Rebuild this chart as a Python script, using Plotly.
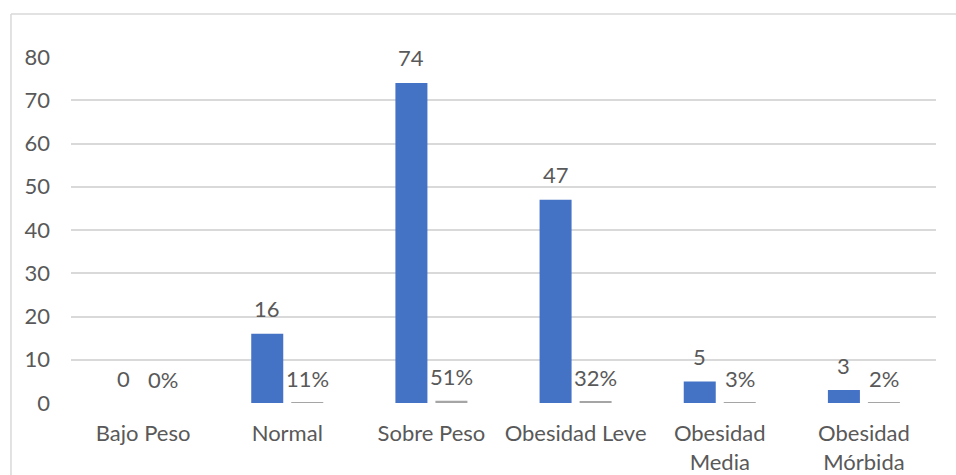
import plotly.graph_objects as go

# Weight-status categories (two-line labels where the axis wraps them)
categories = ["Bajo Peso", "Normal", "Sobre Peso", "Obesidad Leve",
              "Obesidad<br>Media", "Obesidad<br>Mórbida"]
counts = [0, 16, 74, 47, 5, 3]
shares = [0.00, 0.11, 0.51, 0.32, 0.03, 0.02]

y_ticks = [0, 10, 20, 30, 40, 50, 60, 70, 80]

FONT = "Lato"
FONT_SIZE = 22
TEXT_COLOR = "#595959"
GRID_COLOR = "#d9d9d9"

fig = go.Figure()
fig.add_trace(go.Bar(x=categories, y=counts, marker_color="#4472C4",
                     marker_line_width=0, name="Frecuencia"))
fig.add_trace(go.Bar(x=categories, y=shares, marker_color="#A5A5A5",
                     marker_line_width=0, name="Porcentaje"))

# Value labels above each bar
annotations = []
for cat, n, s in zip(categories, counts, shares):
    annotations.append(dict(x=cat, y=n, xref="x", yref="y", text=f"{n}",
                            showarrow=False, xshift=-20, yshift=25,
                            yanchor="middle",
                            font=dict(family=FONT, size=FONT_SIZE, color=TEXT_COLOR)))
    annotations.append(dict(x=cat, y=s, xref="x", yref="y",
                            text=f"{round(s * 100)}%",
                            showarrow=False, xshift=20, yshift=24,
                            yanchor="middle",
                            font=dict(family=FONT, size=FONT_SIZE, color=TEXT_COLOR)))

fig.update_layout(
    width=956, height=475,
    margin=dict(l=71, r=20, t=57, b=72),
    paper_bgcolor="white", plot_bgcolor="white",
    barmode="group", bargap=0.445, bargroupgap=0.2,
    showlegend=False,
    font=dict(family=FONT, size=FONT_SIZE, color=TEXT_COLOR),
    annotations=annotations,
    shapes=[
        # chart frame: top and left edges
        dict(type="line", xref="paper", yref="paper",
             x0=-0.0694, x1=1.1, y0=1.1243, y1=1.1243,
             line=dict(color=GRID_COLOR, width=1.5)),
        dict(type="line", xref="paper", yref="paper",
             x0=-0.0694, x1=-0.0694, y0=1.1243, y1=-0.4,
             line=dict(color=GRID_COLOR, width=1.5)),
    ],
)
fig.update_xaxes(showgrid=False, showline=False, ticks="", automargin=False,
                 tickfont=dict(family=FONT, size=FONT_SIZE, color=TEXT_COLOR),
                 ticklabelstandoff=15)
fig.update_yaxes(range=[0, 80], tickvals=y_ticks, showgrid=True,
                 gridcolor=GRID_COLOR, gridwidth=1.5, zeroline=False,
                 showline=False, ticks="", automargin=False,
                 tickfont=dict(family=FONT, size=FONT_SIZE, color=TEXT_COLOR),
                 ticklabelstandoff=20)

fig.write_html("out.html")
